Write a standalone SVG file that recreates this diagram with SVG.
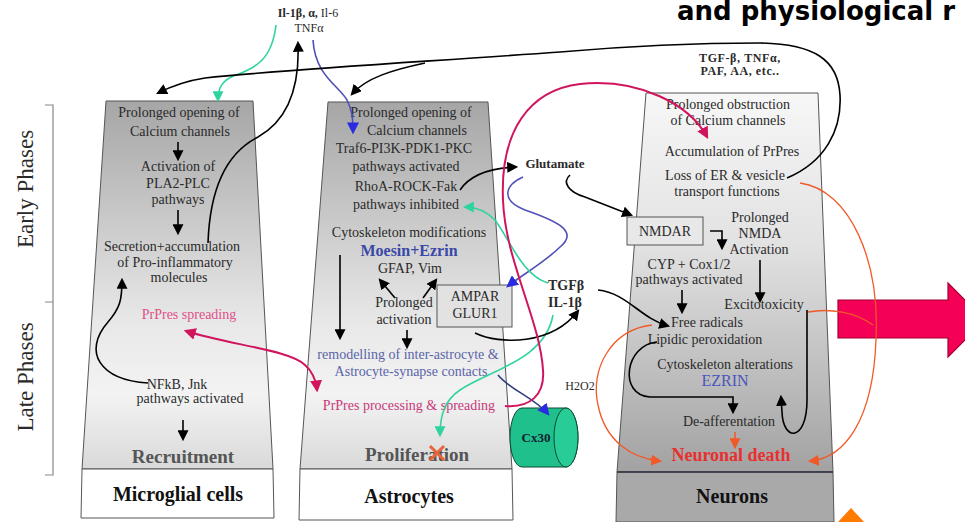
<svg xmlns="http://www.w3.org/2000/svg" width="965" height="522" viewBox="0 0 965 522">
<defs>
<linearGradient id="gUp" x1="0" y1="0" x2="0" y2="1">
<stop offset="0" stop-color="#a6a6a6"/>
<stop offset="0.6" stop-color="#e8e8e8"/>
<stop offset="0.8" stop-color="#f3f3f3"/>
<stop offset="1" stop-color="#d9d9d9"/>
</linearGradient>
<linearGradient id="gDown" x1="0" y1="0" x2="0" y2="1">
<stop offset="0" stop-color="#f7f7f7"/>
<stop offset="0.4" stop-color="#e2e2e2"/>
<stop offset="1" stop-color="#a2a2a2"/>
</linearGradient>
<marker id="ak" viewBox="0 0 10 10" refX="8" refY="5" markerWidth="11" markerHeight="11" markerUnits="userSpaceOnUse" orient="auto"><path d="M0,0 L10,5 L0,10 z" fill="#000"/></marker>
<marker id="ac" viewBox="0 0 10 10" refX="8" refY="5" markerWidth="11" markerHeight="11" markerUnits="userSpaceOnUse" orient="auto"><path d="M0,0 L10,5 L0,10 z" fill="#2fd3a0"/></marker>
<marker id="ab" viewBox="0 0 10 10" refX="8" refY="5" markerWidth="12" markerHeight="12" markerUnits="userSpaceOnUse" orient="auto"><path d="M0,0 L10,5 L0,10 z" fill="#2a2ae0"/></marker>
<marker id="am" viewBox="0 0 10 10" refX="8" refY="5" markerWidth="12" markerHeight="12" markerUnits="userSpaceOnUse" orient="auto-start-reverse"><path d="M0,0 L10,5 L0,10 z" fill="#d0145e"/></marker>
<marker id="ao" viewBox="0 0 10 10" refX="8" refY="5" markerWidth="11" markerHeight="11" markerUnits="userSpaceOnUse" orient="auto"><path d="M0,0 L10,5 L0,10 z" fill="#f05a28"/></marker>
</defs>
<style>
.t{font-family:"Liberation Serif","Times New Roman",serif;font-size:14px;fill:#2a2a2a;text-anchor:middle}
.s{font-size:12px}
.b{font-weight:bold}
.big{font-size:19px;font-weight:bold;fill:#555}
.lbl{font-size:20px;font-weight:bold;fill:#111}
.col{stroke:#555;stroke-width:1}
.k{fill:none;stroke:#000;stroke-width:1.6}
.cy{fill:none;stroke:#2fd3a0;stroke-width:1.6}
.bl{fill:none;stroke:#5050b8;stroke-width:1.6}
.mg{fill:none;stroke:#d0145e;stroke-width:2}
.or{fill:none;stroke:#f05a28;stroke-width:1.3}
</style>
<rect width="965" height="522" fill="#fff"/>

<text x="677" y="20" font-family="'DejaVu Sans',Verdana,sans-serif" font-size="26" font-weight="bold" fill="#000">and physiological r</text>

<g id="phases">
<path d="M45,105 H53 V475 H45 M45,302 H53" fill="none" stroke="#888" stroke-width="1.2"/>
<text class="t" transform="translate(33,189) rotate(-90)" style="font-size:23px">Early Phases</text>
<text class="t" transform="translate(33,377) rotate(-90)" style="font-size:23px">Late Phases</text>
</g>

<g id="microglia">
<polygon class="col" points="106,101 253,101 273,469 82,469" fill="url(#gUp)"/>
<polygon class="col" points="82,469 273,469 274,518 81,518" fill="#fff"/>
<text class="t" x="179" y="117">Prolonged opening of</text>
<text class="t" x="180" y="136">Calcium channels</text>
<text class="t" x="178" y="171">Activation of</text>
<text class="t" x="178" y="188">PLA2-PLC</text>
<text class="t" x="178" y="204">pathways</text>
<text class="t" x="172" y="251">Secretion+accumulation</text>
<text class="t" x="175" y="267">of Pro-inflammatory</text>
<text class="t" x="179" y="282">molecules</text>
<text class="t" x="189" y="319" style="fill:#e0508a">PrPres spreading</text>
<text class="t" x="177" y="389">NFkB, Jnk</text>
<text class="t" x="190" y="403">pathways activated</text>
<text class="t big" x="183" y="463">Recruitment</text>
<text class="t lbl" x="178" y="501">Microglial cells</text>
</g>

<g id="astrocytes">
<polygon class="col" points="328,102 488,102 512,469 300,469" fill="url(#gUp)"/>
<polygon class="col" points="300,469 512,469 513,520 299,520" fill="#fff"/>
<text class="t" x="411" y="117">Prolonged opening of</text>
<text class="t" x="417" y="135">Calcium channels</text>
<text class="t" x="404" y="153">Traf6-PI3K-PDK1-PKC</text>
<text class="t" x="406" y="171">pathways activated</text>
<text class="t" x="406" y="191">RhoA-ROCK-Fak</text>
<text class="t" x="406" y="209">pathways inhibited</text>
<text class="t" x="409" y="237">Cytoskeleton modifications</text>
<text class="t b" x="409" y="256" style="font-size:16px;fill:#3a48a8">Moesin+Ezrin</text>
<text class="t" x="410" y="273">GFAP, Vim</text>
<text class="t" x="404" y="307">Prolonged</text>
<text class="t" x="404" y="324">activation</text>
<g id="ampar">
<rect x="437" y="285" width="75" height="42" fill="#e2e2e2" stroke="#555"/>
<text class="t" x="475" y="301">AMPAR</text>
<text class="t" x="475" y="318">GLUR1</text>
</g>
<text class="t" x="408" y="359" style="fill:#5a64a8">remodelling of inter-astrocyte &amp;</text>
<text class="t" x="411" y="376" style="fill:#5a64a8">Astrocyte-synapse contacts</text>
<text class="t" x="409" y="410" style="fill:#c83a7a">PrPres processing &amp; spreading</text>
<text class="t big" x="417" y="461">Proliferation</text>
<path d="M430,446 L444,460 M444,446 L430,460" stroke="#e8643c" stroke-width="3"/>
<text class="t lbl" x="409" y="503">Astrocytes</text>
</g>

<g id="neurons">
<polygon class="col" points="646,93 818,93 833,472 617,472" fill="url(#gDown)"/>
<polygon class="col" points="617,472 833,472 834,522 616,522" fill="#a9a9a9"/>
<line x1="617" y1="472" x2="833" y2="472" stroke="#334" stroke-width="1.5"/>
<text class="t b" x="740" y="62" style="font-size:12px;letter-spacing:0.6px">TGF-β, TNFα,</text>
<text class="t b" x="740" y="75" style="font-size:12px;letter-spacing:0.6px">PAF, AA, etc..</text>
<text class="t" x="728" y="109">Prolonged obstruction</text>
<text class="t" x="728" y="125">of Calcium channels</text>
<text class="t" x="732" y="156">Accumulation of PrPres</text>
<text class="t" x="725" y="180">Loss of ER &amp; vesicle</text>
<text class="t" x="727" y="196">transport functions</text>
<g id="nmdar">
<rect x="627" y="217" width="76" height="28" fill="#e8e8e8" stroke="#555"/>
<text class="t" x="665" y="236">NMDAR</text>
</g>
<text class="t" x="760" y="222">Prolonged</text>
<text class="t" x="760" y="238">NMDA</text>
<text class="t" x="759" y="254">Activation</text>
<text class="t" x="689" y="269">CYP + Cox1/2</text>
<text class="t" x="689" y="284">pathways activated</text>
<text class="t" x="764" y="309">Excitotoxicity</text>
<text class="t" x="707" y="327">Free radicals</text>
<text class="t" x="705" y="344">Lipidic peroxidation</text>
<text class="t" x="725" y="369">Cytoskeleton alterations</text>
<text class="t" x="725" y="386" style="font-size:16px;fill:#4a55c0">EZRIN</text>
<text class="t" x="729" y="426">De-afferentation</text>
<text class="t b" x="731" y="461" style="font-size:18px;fill:#e83030">Neuronal death</text>
<text class="t lbl" x="732" y="503">Neurons</text>
</g>

<g id="mediators">
<text class="t s" x="308" y="17"><tspan font-weight="bold">Il-1β, α,</tspan> Il-6</text>
<text class="t s" x="309" y="32">TNFα</text>
<text class="t b" x="555" y="168" style="font-size:13px">Glutamate</text>
<text class="t b" x="548" y="290" style="text-anchor:start">TGFβ</text>
<text class="t b" x="548" y="307" style="text-anchor:start">IL-1β</text>
<text class="t s" x="580" y="390">H2O2</text>
</g>

<g id="cx30">
<path d="M522,408 H566 A12,29.5 0 0 1 566,467 H522 A12,29.5 0 0 1 522,408 z" fill="#20c08c" stroke="#0d4a35" stroke-width="1"/>
<ellipse cx="566" cy="437.5" rx="12" ry="29.5" fill="#28cc96" stroke="#0d4a35" stroke-width="1"/>
<text class="t b" x="536" y="442" style="font-size:13px;fill:#123">Cx30</text>
</g>

<g id="bigarrow">
<polygon points="838,300 948,300 948,283 985,320 948,357 948,338 838,338" fill="#f50057" stroke="#a00030" stroke-width="1.2"/>
</g>
<polygon points="851,508 838,522 864,522" fill="#ff7a00"/>

<g id="connectors">
<line class="k" x1="178" y1="142" x2="178" y2="159" marker-end="url(#ak)" stroke-width="1.2"/>
<line class="k" x1="178" y1="210" x2="178" y2="233" marker-end="url(#ak)" stroke-width="1.2"/>
<line class="k" x1="183" y1="420" x2="183" y2="439" marker-end="url(#ak)" stroke-width="1.2"/>
<path class="k" d="M208,243 C210,185 228,152 258,137 C285,122 300,92 298,43" marker-end="url(#ak)"/>
<path class="k" d="M148,383 C100,380 82,352 108,322 C120,308 122,300 122,280" marker-end="url(#ak)"/>
<path class="cy" d="M276,25 C272,60 255,68 236,75 C222,80 218,88 218,100" marker-end="url(#ac)"/>
<path class="bl" d="M313,40 C315,75 338,85 347,100 C352,110 353,118 353,132" marker-end="url(#ab)"/>
<path class="k" d="M787,178 C825,162 842,130 840,95 C838,60 815,44 760,43 C700,43 640,45 560,52 C420,62 280,70 205,78 C185,81 172,86 158,93" marker-end="url(#ak)"/>
<path class="k" d="M425,63 C392,70 366,78 352,94" marker-end="url(#ak)"/>
<line class="k" x1="340" y1="255" x2="340" y2="338" marker-end="url(#ak)" stroke-width="1.2"/>
<line class="k" x1="395" y1="298" x2="380" y2="280" marker-end="url(#ak)" stroke-width="1.2"/>
<line class="k" x1="423" y1="298" x2="436" y2="280" marker-end="url(#ak)" stroke-width="1.2"/>
<line class="k" x1="407" y1="330" x2="407" y2="347" marker-end="url(#ak)" stroke-width="1.2"/>
<path class="k" d="M460,190 C470,175 490,168 516,167" marker-end="url(#ak)"/>
<path class="k" d="M570,175 C562,182 568,192 585,197 L631,215" marker-end="url(#ak)"/>
<path class="bl" d="M523,177 C505,185 500,200 525,210 C560,222 578,232 560,247 C545,262 522,275 508,286" marker-end="url(#ab)"/>
<path class="cy" d="M548,283 C522,275 510,240 495,220 C485,210 476,207 465,207" marker-end="url(#ac)"/>
<path class="cy" d="M553,315 C545,360 490,370 460,390 C445,400 440,415 440,435" marker-end="url(#ac)"/>
<path class="k" d="M475,333 C500,345 552,345 578,311" marker-end="url(#ak)"/>
<path class="k" d="M598,290 C627,293 640,318 668,326" marker-end="url(#ak)"/>
<path d="M498,375 C510,390 535,398 548,414" fill="none" stroke="#304080" stroke-width="1.6" marker-end="url(#ab)"/>
<path class="mg" d="M505,406 C530,408 545,395 543,370 C540,320 505,260 503,200 C500,130 530,90 580,84 C640,78 690,105 707,137" marker-end="url(#am)"/>
<path class="mg" d="M186,331 C230,345 290,350 305,365 C313,372 316,380 317,390" marker-start="url(#am)" marker-end="url(#am)"/>
<path class="k" d="M710,231 H722 V248" marker-end="url(#ak)" stroke-width="1.2"/>
<line class="k" x1="682" y1="290" x2="682" y2="312" marker-end="url(#ak)" stroke-width="1.2"/>
<line class="k" x1="760" y1="260" x2="760" y2="301" marker-end="url(#ak)" stroke-width="1.2"/>
<path class="k" d="M657,342 C625,345 618,395 650,397 L733,397 L733,412" marker-end="url(#ak)"/>
<path class="k" d="M807,310 L807,400 C807,442 783,442 782,412 L781,397" marker-end="url(#ak)"/>
<line x1="735" y1="432" x2="735" y2="447" stroke="#f05a28" stroke-width="1.5" marker-end="url(#ao)"/>
<path class="or" d="M652,325 C610,330 590,370 598,405 C605,440 630,458 660,461" marker-end="url(#ao)"/>
<path class="or" d="M800,183 C850,190 880,260 876,340 C873,420 845,458 810,461" marker-end="url(#ao)"/>
<path class="or" d="M808,312 C830,308 855,312 873,325"/>
</g>
</svg>
